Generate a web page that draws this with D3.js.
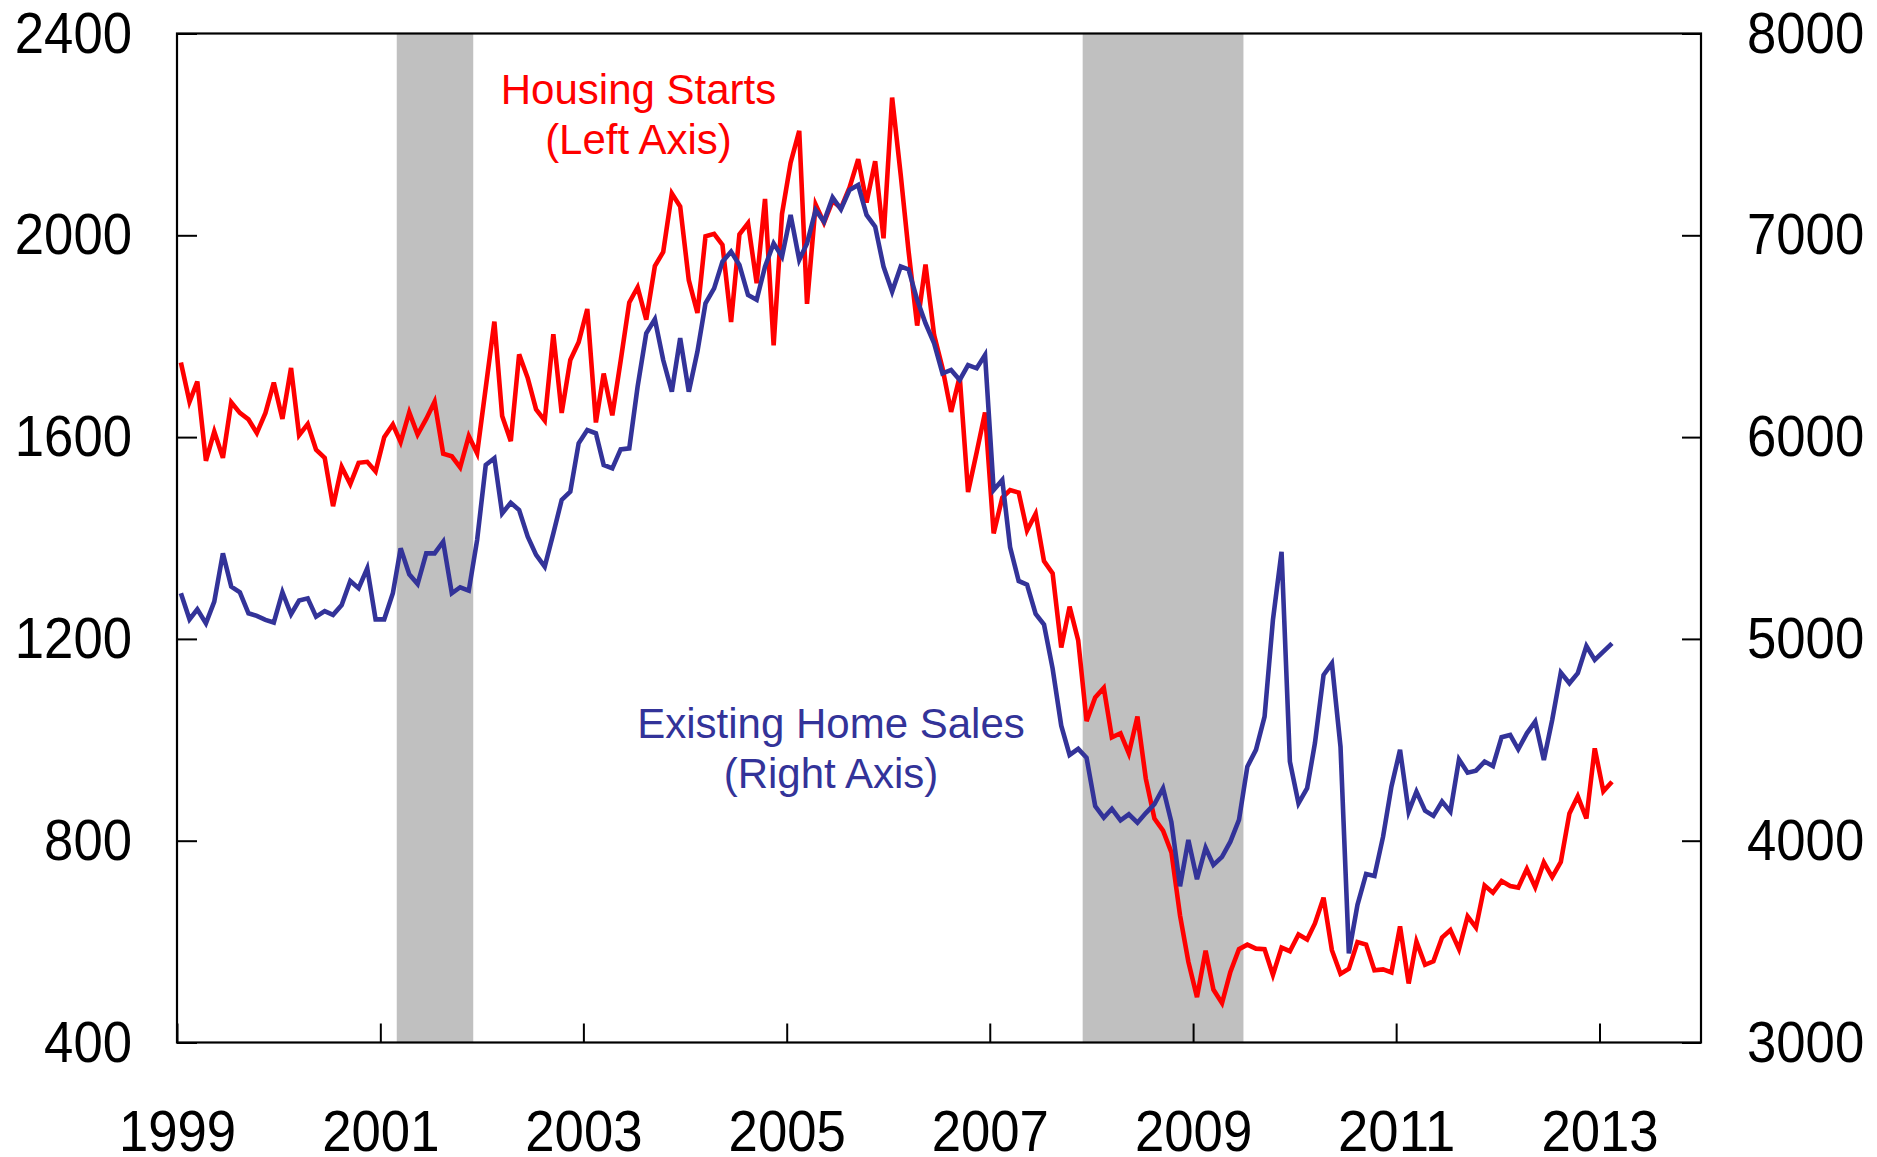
<!DOCTYPE html>
<html>
<head>
<meta charset="utf-8">
<script src="https://cdn.jsdelivr.net/npm/d3@7"></script>
<style>
    html, body { margin: 0; padding: 0; background: #fff; }
    svg { display: block; font-family: "Liberation Sans", Arial, sans-serif; }
</style>
</head>
<body>
<div id="chart"></div>
<script>
// monthly, Jan 1999 - Feb 2013, thousands (SAAR)
const housingStarts = [
    1748, 1670, 1710, 1553, 1611, 1559, 1669, 1648, 1635, 1608, 1648, 1708,
    1636, 1737, 1604, 1626, 1575, 1559, 1463, 1541, 1507, 1549, 1551, 1532,
    1600, 1625, 1590, 1649, 1605, 1636, 1670, 1567, 1562, 1540, 1602, 1568,
    1698, 1829, 1642, 1592, 1764, 1717, 1655, 1633, 1804, 1648, 1753, 1788,
    1854, 1629, 1726, 1643, 1751, 1867, 1897, 1833, 1939, 1967, 2083, 2057,
    1911, 1846, 1998, 2003, 1981, 1828, 2002, 2024, 1905, 2072, 1782, 2042,
    2144, 2207, 1864, 2061, 2025, 2068, 2054, 2095, 2151, 2065, 2147, 1994,
    2273, 2119, 1969, 1821, 1942, 1802, 1737, 1650, 1720, 1491, 1570, 1649,
    1409, 1480, 1495, 1490, 1415, 1448, 1354, 1330, 1183, 1264, 1197, 1037,
    1084, 1103, 1005, 1013, 973, 1046, 923, 844, 820, 777, 652, 560,
    490, 582, 505, 478, 540, 585, 594, 586, 585, 534, 588, 581,
    614, 604, 636, 687, 583, 536, 546, 599, 594, 543, 545, 539,
    630, 517, 600, 554, 561, 608, 623, 585, 650, 628, 711, 697,
    720, 710, 707, 744, 708, 757, 728, 758, 854, 888, 844, 983,
    898, 917
];

const homeSales = [
    5226, 5097, 5147, 5077, 5185, 5424, 5259, 5231, 5127, 5114, 5094, 5081,
    5231, 5122, 5190, 5201, 5110, 5138, 5119, 5168, 5287, 5251, 5350, 5097,
    5097, 5226, 5449, 5320, 5272, 5424, 5424, 5482, 5226, 5256, 5239, 5490,
    5862, 5895, 5622, 5675, 5639, 5507, 5416, 5358, 5523, 5689, 5730, 5969,
    6035, 6019, 5862, 5845, 5939, 5944, 6250, 6514, 6584, 6382, 6225, 6490,
    6225, 6424, 6663, 6737, 6869, 6919, 6853, 6704, 6680, 6845, 6960, 6894,
    7101, 6878, 6960, 7125, 7068, 7188, 7129, 7225, 7249, 7101, 7043, 6845,
    6721, 6845, 6831, 6680, 6564, 6465, 6316, 6333, 6283, 6357, 6341, 6407,
    5738, 5788, 5455, 5287, 5269, 5124, 5071, 4853, 4570, 4425, 4455, 4411,
    4172, 4114, 4158, 4101, 4131, 4089, 4137, 4181, 4260, 4092, 3774, 4004,
    3809, 3965, 3880, 3920, 3995, 4103, 4367, 4450, 4615, 5094, 5432, 4392,
    4185, 4260, 4483, 4821, 4879, 4466, 3442, 3682, 3835, 3825, 4020, 4268,
    4450, 4144, 4243, 4149, 4123, 4194, 4144, 4403, 4337, 4347, 4392, 4370,
    4513, 4524, 4453, 4532, 4590, 4400, 4598, 4833, 4780, 4830, 4965, 4896,
    4937, 4978
];

const firstMonth = [1999, 0];
const leftTicks = [400, 800, 1200, 1600, 2000, 2400];
const rightTicks = [3000, 4000, 5000, 6000, 7000, 8000];
const yearTicks = [1999, 2001, 2003, 2005, 2007, 2009, 2011, 2013];
const recessionStart = ["2001-03-01", "2007-12-01"];
const recessionEnd = ["2001-12-01", "2009-07-01"];
const startsLabel = ["Housing Starts", "(Left Axis)"];
const salesLabel = ["Existing Home Sales", "(Right Axis)"];

const width = 1877, height = 1157;
const margin = { top: 33.5, right: 176, bottom: 114.5, left: 177 };
const RED = "#ff0000", BLUE = "#333399";

const parse = d3.utcParse("%Y-%m-%d");
const monthDate = i => new Date(Date.UTC(firstMonth[0], firstMonth[1] + i, 15));

const svg = d3.select("#chart").append("svg")
    .attr("width", width)
    .attr("height", height);

const x = d3.scaleUtc()
    .domain([Date.UTC(1999, 0, 1), Date.UTC(2014, 0, 1)])
    .range([margin.left, width - margin.right]);

const yLeft = d3.scaleLinear()
    .domain([400, 2400])
    .range([height - margin.bottom, margin.top]);

const yRight = d3.scaleLinear()
    .domain([3000, 8000])
    .range([height - margin.bottom, margin.top]);

// recession bars
svg.append("g").selectAll("rect")
    .data(recessionStart)
    .join("rect")
    .attr("x", d => x(parse(d)))
    .attr("width", (d, i) => x(parse(recessionEnd[i])) - x(parse(d)))
    .attr("y", margin.top)
    .attr("height", height - margin.bottom - margin.top)
    .attr("fill", "#c0c0c0");

// digits in the reference are a bit narrower than Arial
function squeeze(sel) {
    sel.selectAll("text")
        .attr("fill", "#000")
        .style("font-size", "58px")
        .attr("lengthAdjust", "spacingAndGlyphs")
        .attr("textLength", function () { return this.textContent.length * 29.3; });
}

const gLeft = svg.append("g")
    .attr("transform", `translate(${margin.left},0)`)
    .call(d3.axisLeft(yLeft).tickValues(leftTicks).tickSizeInner(-20).tickSizeOuter(0).tickPadding(45).tickFormat(d3.format("d")));

const gRight = svg.append("g")
    .attr("transform", `translate(${width - margin.right},0)`)
    .call(d3.axisRight(yRight).tickValues(rightTicks).tickSizeInner(-19).tickSizeOuter(0).tickPadding(46).tickFormat(d3.format("d")));

const gBottom = svg.append("g")
    .attr("transform", `translate(0,${height - margin.bottom})`)
    .call(d3.axisBottom(x).tickValues(yearTicks.map(y => Date.UTC(y, 0, 1))).tickSizeInner(-19).tickSizeOuter(0).tickPadding(67).tickFormat(d3.utcFormat("%Y")));

[gLeft, gRight, gBottom].forEach(g => {
    g.select(".domain").remove();
    g.selectAll(".tick line").attr("stroke", "#000").attr("stroke-width", 2);
    g.call(squeeze);
});

// series
const lineLeft = d3.line().x((d, i) => x(monthDate(i))).y(d => yLeft(d));
const lineRight = d3.line().x((d, i) => x(monthDate(i))).y(d => yRight(d));

svg.append("path")
    .datum(housingStarts)
    .attr("fill", "none")
    .attr("stroke", RED)
    .attr("stroke-width", 4.6)
    .attr("d", lineLeft);

svg.append("path")
    .datum(homeSales)
    .attr("fill", "none")
    .attr("stroke", BLUE)
    .attr("stroke-width", 4.6)
    .attr("d", lineRight);

// frame
svg.append("rect")
    .attr("x", margin.left)
    .attr("y", margin.top)
    .attr("width", width - margin.left - margin.right)
    .attr("height", height - margin.top - margin.bottom)
    .attr("fill", "none")
    .attr("stroke", "#000")
    .attr("stroke-width", 2.2);

// series labels
function addLabel(lines, cx, y0, color) {
    svg.append("g").selectAll("text")
        .data(lines)
        .join("text")
        .attr("x", cx)
        .attr("y", (d, i) => y0 + i * 50)
        .attr("text-anchor", "middle")
        .attr("fill", color)
        .style("font-size", "42px")
        .text(d => d);
}

addLabel(startsLabel, 638.5, 104, RED);
addLabel(salesLabel, 831, 738, BLUE);
</script>
</body>
</html>
